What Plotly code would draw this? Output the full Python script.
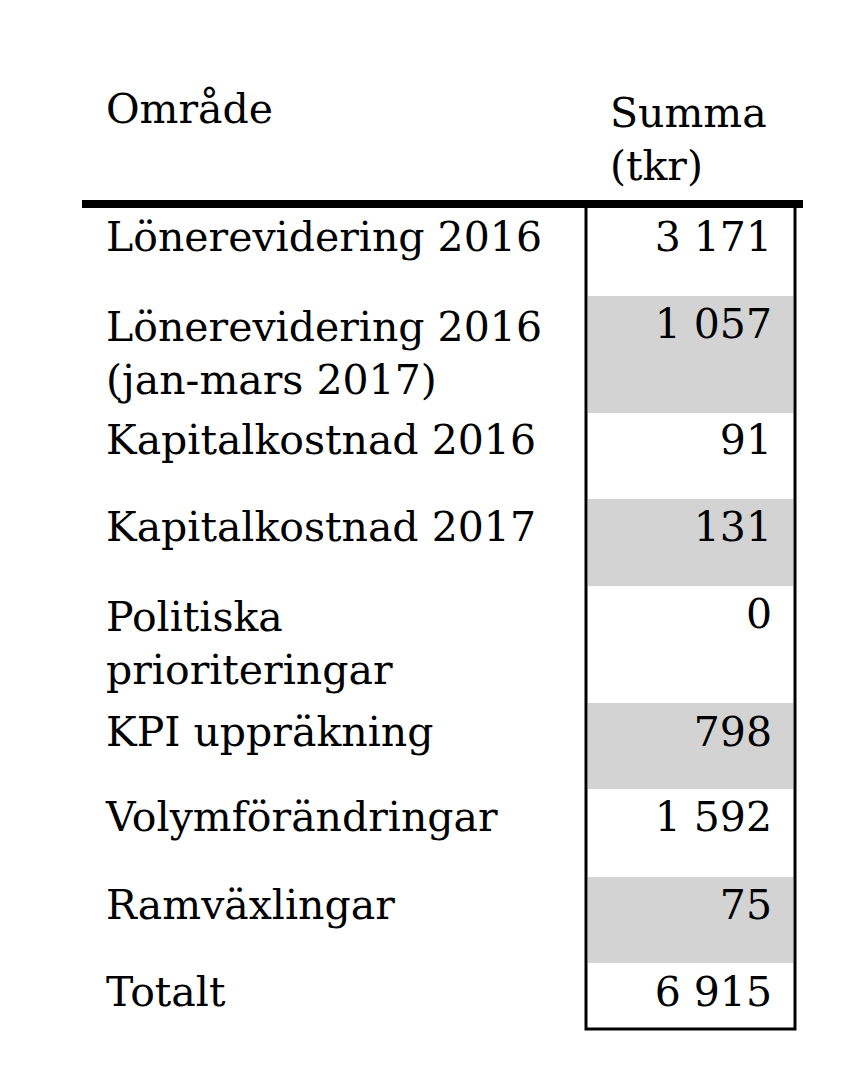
import plotly.graph_objects as go

# Data
omrade = ["Lönerevidering 2016", "Lönerevidering 2016<br>(jan-mars 2017)", "Kapitalkostnad 2016",
          "Kapitalkostnad 2017", "Politiska<br>prioriteringar", "KPI uppräkning",
          "Volymförändringar", "Ramväxlingar", "Totalt"]
summa = ["3 171", "1 057", "91", "131", "0", "798", "1 592", "75", "6 915"]
shaded = [False, True, False, True, False, True, False, True, False]

# Layout in pixels (row boundaries)
row_edges = [203, 295, 412, 498, 585, 702, 788, 876, 962, 1028]
text_y = [240, 356, 443, 530, 646, 735, 820, 908, 995]
box_l, box_r = 586, 795
font = dict(family="DejaVu Serif", size=41, color="black")

fig = go.Figure()

# grey row shading
for i, s in enumerate(shaded):
    if s:
        top, bot = row_edges[i], row_edges[i + 1]
        fig.add_trace(go.Bar(x=[box_r - box_l - 4], base=[box_l + 2], y=[(top + bot) / 2],
                             width=[bot - top], orientation="h", marker_color="#d3d3d3",
                             marker_line_width=0, hoverinfo="skip"))

fig.add_trace(go.Scatter(x=[106] * len(omrade), y=text_y, text=omrade, mode="text",
                         textposition="middle right", textfont=font, hoverinfo="skip"))
fig.add_trace(go.Scatter(x=[772] * len(summa), y=[240, 327, 443, 530, 617, 735, 820, 908, 995],
                         text=summa, mode="text", textposition="middle left",
                         textfont=font, hoverinfo="skip"))
fig.add_trace(go.Scatter(x=[106, 610], y=[112, 142], text=["Område", "Summa<br>(tkr)"],
                         mode="text", textposition="middle right", textfont=font, hoverinfo="skip"))

# table lines
fig.add_shape(type="line", x0=82, x1=803, y0=203, y1=203, line=dict(color="black", width=8))
fig.add_shape(type="rect", x0=box_l, x1=box_r, y0=203, y1=1028, line=dict(color="black", width=3))

fig.update_layout(width=868, height=1068, margin=dict(l=0, r=0, t=0, b=0),
                  plot_bgcolor="white", paper_bgcolor="white", showlegend=False, bargap=0,
                  xaxis=dict(range=[8, 876], visible=False, fixedrange=True),
                  yaxis=dict(range=[1075, 7], visible=False, fixedrange=True))
fig.update_traces(cliponaxis=False, selector=dict(type="scatter"))
fig.write_html("out.html")
